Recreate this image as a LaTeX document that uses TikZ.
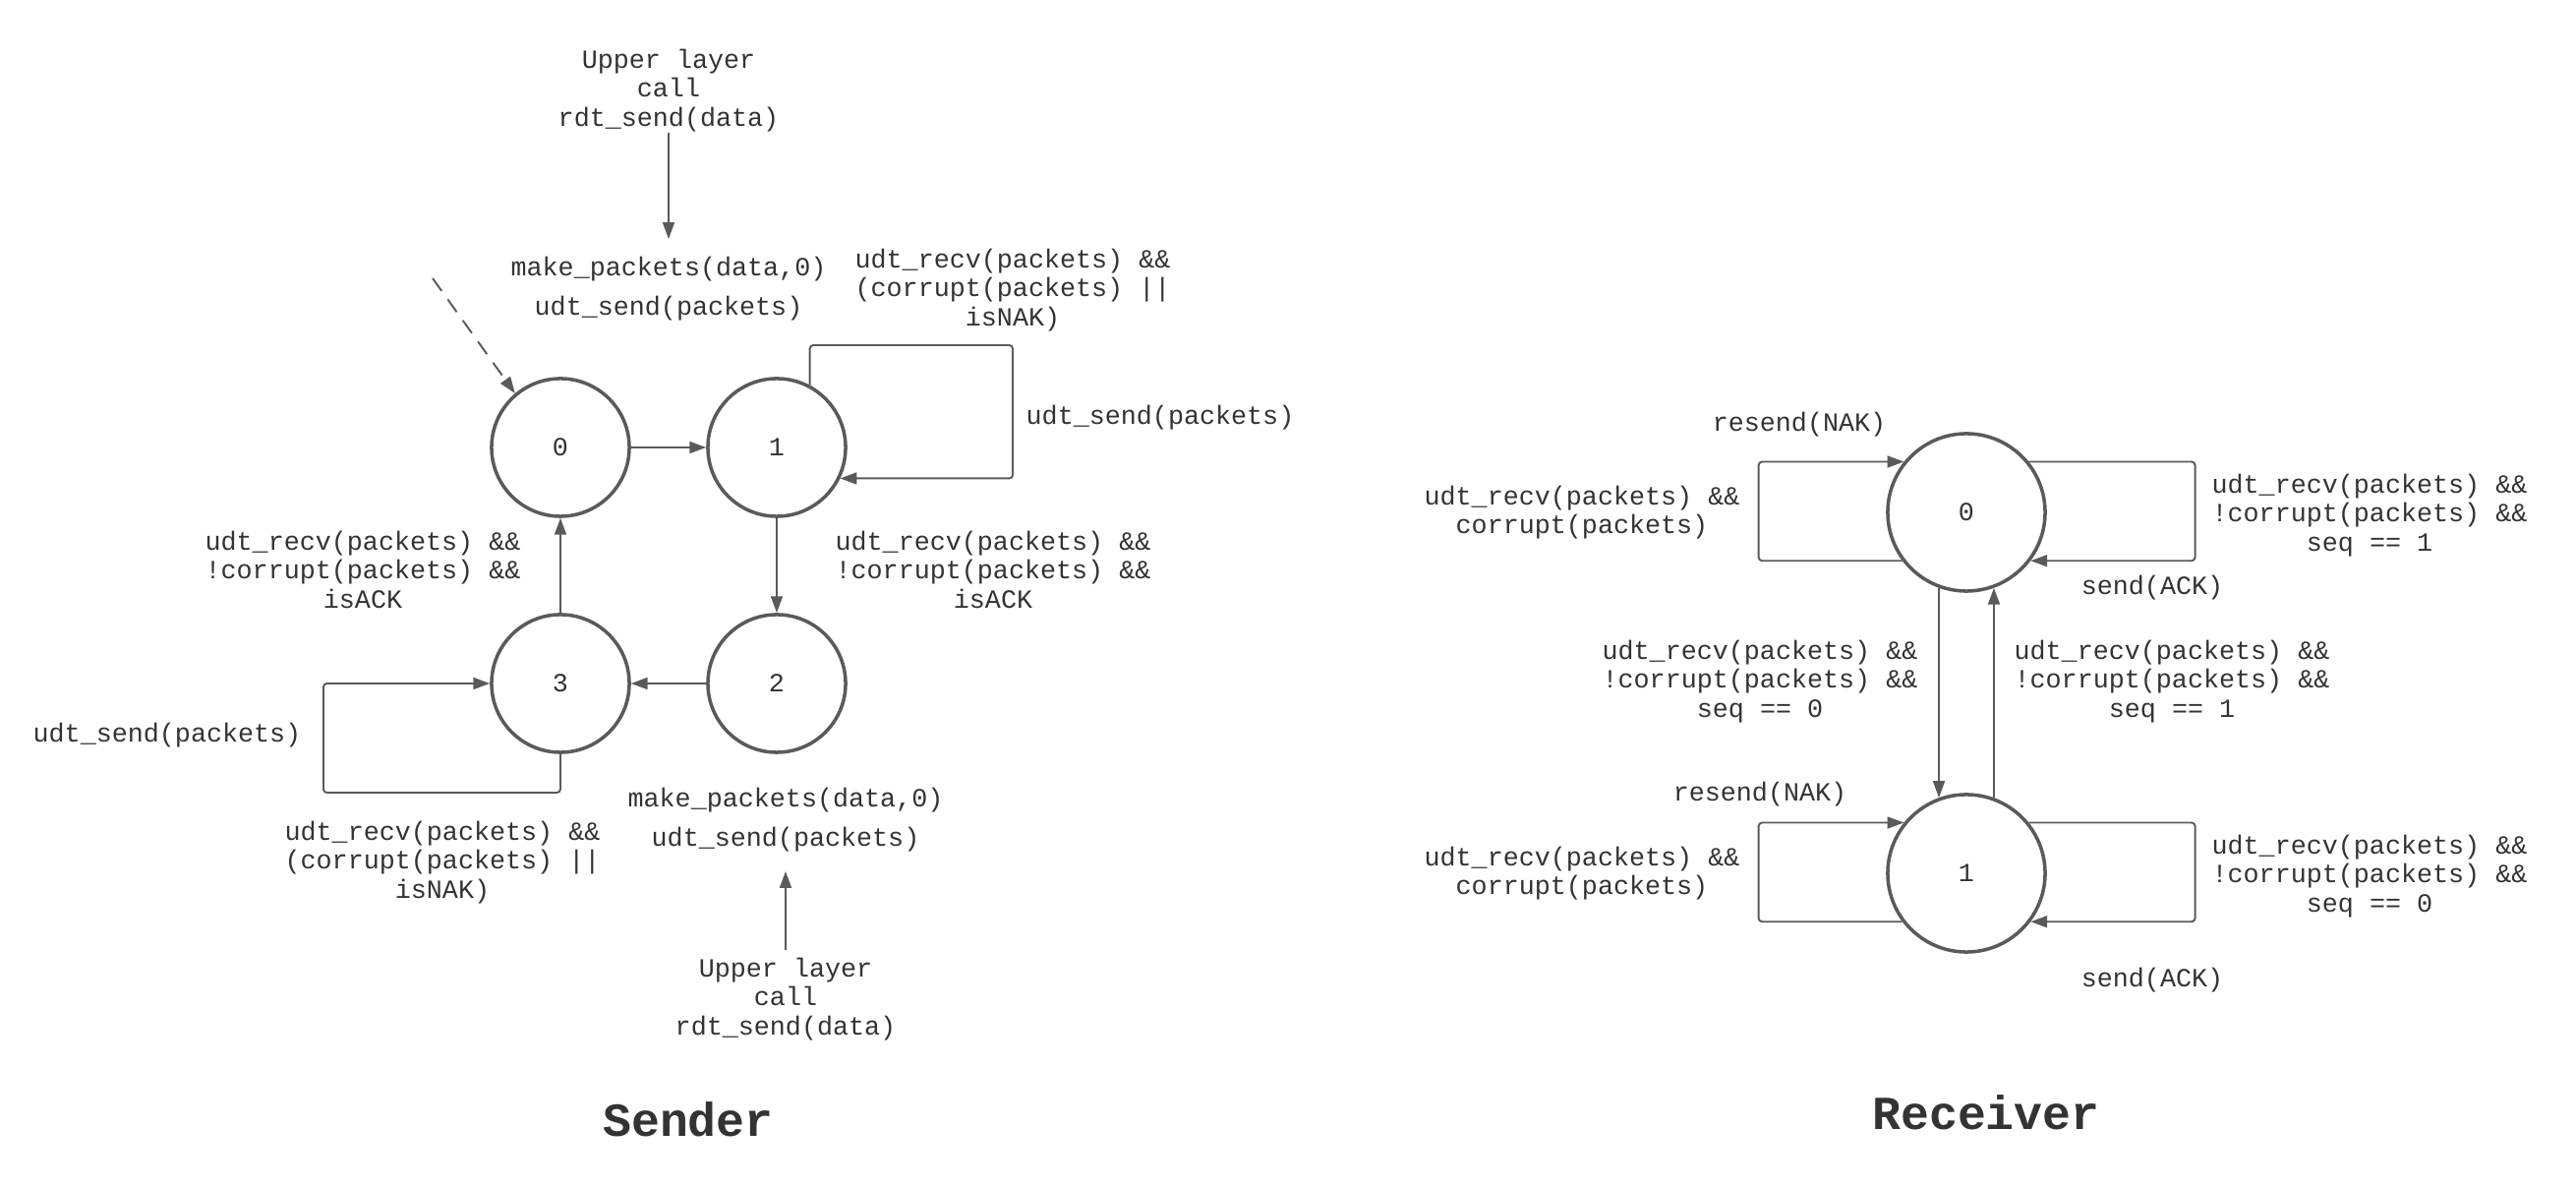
\documentclass[tikz,border=0pt]{standalone}
\usepackage{fontspec}
\setmainfont{Liberation Mono}
\usetikzlibrary{arrows.meta}
\definecolor{linegray}{HTML}{5A5A5A}
\definecolor{textgray}{HTML}{333333}

\begin{document}
\begin{tikzpicture}[x=0.01cm,y=-0.01cm,
  state/.style={draw=linegray,line width=1pt,circle,inner sep=0pt,text=textgray,font=\fontsize{7.6}{8.4}\selectfont},
  lbl/.style={text=textgray,align=center,inner sep=0pt,font=\fontsize{7.6}{8.4}\selectfont},
  heading/.style={text=textgray,inner sep=0pt,font=\fontsize{13.7}{15}\selectfont\bfseries},
  conn/.style={draw=linegray,line width=0.55pt,-{Triangle[length=4.8pt,width=3.4pt]},rounded corners=1pt}]

\useasboundingbox (0,0) rectangle (2620,1207);

% sender
\begin{scope}[every node/.append style={minimum size=1.4cm}]
\node[state] (s0) at (570,455) {0};
\node[state] (s1) at (790,455) {1};
\node[state] (s2) at (790,695) {2};
\node[state] (s3) at (570,695) {3};
\end{scope}

\node[lbl] (uptop) at (680,92) {Upper layer\\call\\rdt\_send(data)};
\node[lbl] (mktop) at (680,294) {make\_packets(data,0)\\[3pt]udt\_send(packets)};
\node[lbl] (c1top) at (1030,295) {udt\_recv(packets) \&\&\\(corrupt(packets) ||\\isNAK)};
\node[lbl] (rs1) at (1180,425) {udt\_send(packets)};
\node[lbl] (ack12) at (1010,579) {udt\_recv(packets) \&\&\\!corrupt(packets) \&\&\\isACK};
\node[lbl] (ack30) at (369,579) {udt\_recv(packets) \&\&\\!corrupt(packets) \&\&\\isACK};
\node[lbl] (rs3) at (170,748) {udt\_send(packets)};
\node[lbl] (c3bot) at (450,877) {udt\_recv(packets) \&\&\\(corrupt(packets) ||\\isNAK)};
\node[lbl] (mkbot) at (799,834) {make\_packets(data,0)\\[3pt]udt\_send(packets)};
\node[lbl] (upbot) at (799,1016) {Upper layer\\call\\rdt\_send(data)};
\node[heading] (sender) at (700,1138) {Sender};

\coordinate (sinit) at (440,283);
\coordinate (uptail) at (680,135);
\coordinate (uphead) at (680,243);
\coordinate (bottail) at (799,966);
\coordinate (bothead) at (799,886);

\begin{scope}
\draw[conn,dashed,dash pattern=on 4.5pt off 3pt] (sinit) -- (s0.130);
\draw[conn] (uptail) -- (uphead);
\draw[conn] (bottail) -- (bothead);
\draw[conn] (s0) -- (s1);
\draw[conn] (s1) -- (s2);
\draw[conn] (s2) -- (s3);
\draw[conn] (s3) -- (s0);
\draw[conn] (s1.62) |- (1030,351) |- (s1.-26);
\draw[conn] (s3.south) |- (329,806) |- (s3.west);
\end{scope}

% receiver
\begin{scope}[every node/.append style={minimum size=1.6cm}]
\node[state] (r0) at (2000,521) {0};
\node[state] (r1) at (2000,888) {1};
\end{scope}

\node[lbl] (nak0) at (1830,432) {resend(NAK)};
\node[lbl] (bad0) at (1609,521) {udt\_recv(packets) \&\&\\corrupt(packets)};
\node[lbl] (dup0) at (2410,524) {udt\_recv(packets) \&\&\\!corrupt(packets) \&\&\\seq == 1};
\node[lbl] (ack0) at (2189,598) {send(ACK)};
\node[lbl] (go01) at (1790,693) {udt\_recv(packets) \&\&\\!corrupt(packets) \&\&\\seq == 0};
\node[lbl] (go10) at (2209,693) {udt\_recv(packets) \&\&\\!corrupt(packets) \&\&\\seq == 1};
\node[lbl] (nak1) at (1790,808) {resend(NAK)};
\node[lbl] (bad1) at (1609,888) {udt\_recv(packets) \&\&\\corrupt(packets)};
\node[lbl] (dup1) at (2410,891) {udt\_recv(packets) \&\&\\!corrupt(packets) \&\&\\seq == 0};
\node[lbl] (ack1) at (2189,997) {send(ACK)};
\node[heading] (receiver) at (2020,1131) {Receiver};

\begin{scope}
\draw[conn] (r0.250) -- (r1.110);
\draw[conn] (r1.70) -- (r0.290);
\draw[conn] (r0.217) -- ++(-146,0) |- (r0.141);
\draw[conn] (r0.39) -- ++(169,0) |- (r0.-37);
\draw[conn] (r1.217) -- ++(-146,0) |- (r1.141);
\draw[conn] (r1.39) -- ++(169,0) |- (r1.-37);
\end{scope}
\end{tikzpicture}
\end{document}
